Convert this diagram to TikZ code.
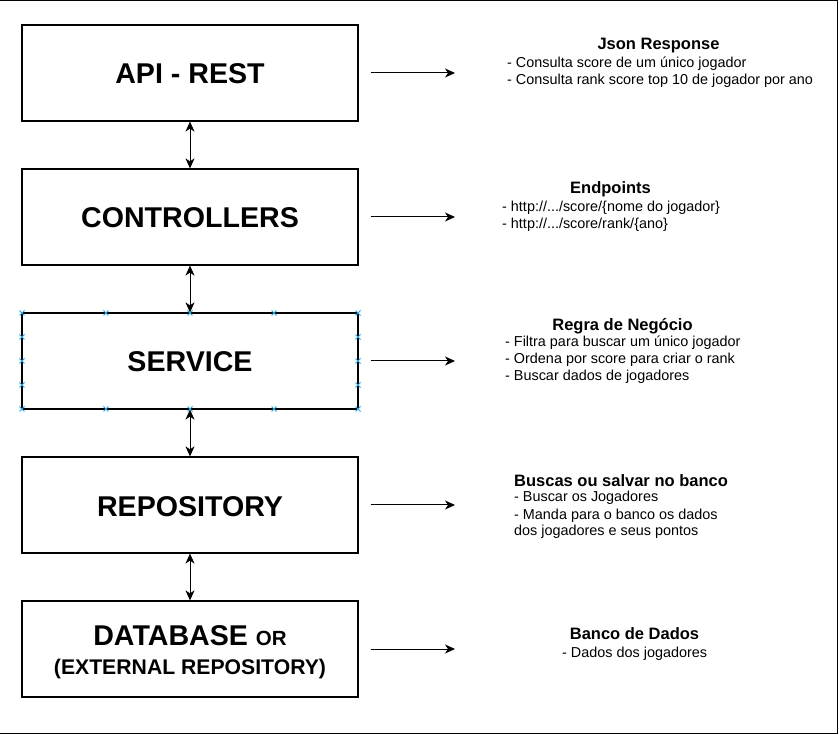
\documentclass[tikz,border=0pt]{standalone}
\usepackage{fontspec}
\setmainfont{Liberation Sans}
\usetikzlibrary{arrows.meta}
\begin{document}
\begin{tikzpicture}[x=1pt,y=-1pt,
  layer/.style={draw=black,line width=1.2pt,minimum width=336pt,minimum height=96pt,inner sep=0pt},
  boxtitle/.style={anchor=base,font=\bfseries\fontsize{28.6}{30}\selectfont,inner sep=0pt},
  conn/.style={line width=1pt,-{Stealth[length=10pt,width=9pt,inset=3pt]}},
  dconn/.style={line width=1pt,{Stealth[length=10pt,width=9pt,inset=3pt]}-{Stealth[length=10pt,width=9pt,inset=3pt]}},
  head/.style={anchor=base,font=\bfseries\fontsize{16.5}{18}\selectfont,inner sep=0pt},
  item/.style={anchor=base west,font=\fontsize{14.4}{16}\selectfont,inner sep=0pt},
  selmark/.style={draw={rgb,255:red,41;green,168;blue,224},line width=0.8pt}
]
\useasboundingbox (0,0) rectangle (839,735);
% outer frame
\draw[line width=1pt] (0,1) -- (837,1) -- (837,733) -- (0,733);

% layer boxes
\node[layer] (api) at (190,73) {};
\node[layer] (ctl) at (190,217) {};
\node[layer] (svc) at (190,361) {};
\node[layer] (rep) at (190,505) {};
\node[layer] (db)  at (190,649) {};

\node[boxtitle] (tapi) at (190,84) {API - REST};
\node[boxtitle] (tctl) at (190,228) {CONTROLLERS};
\node[boxtitle] (tsvc) at (190,372) {SERVICE};
\node[boxtitle] (trep) at (190,516) {REPOSITORY};
\node[boxtitle] (tdb1) at (190,645) {DATABASE {\fontsize{20.5}{22}\selectfont OR}};
\node[anchor=base,font=\bfseries\fontsize{21.2}{23}\selectfont,inner sep=0pt] (tdb2) at (190,674) {(EXTERNAL REPOSITORY)};

% selection markers on SERVICE
\foreach \px in {22,106,190,274,358}{
  \draw[selmark] (\px-2.5,313-2.5) -- (\px+2.5,313+2.5) (\px-2.5,313+2.5) -- (\px+2.5,313-2.5);
  \draw[selmark] (\px-2.5,409-2.5) -- (\px+2.5,409+2.5) (\px-2.5,409+2.5) -- (\px+2.5,409-2.5);
}
\foreach \py in {337,361,385}{
  \draw[selmark] (22-2.5,\py-2.5) -- (22+2.5,\py+2.5) (22-2.5,\py+2.5) -- (22+2.5,\py-2.5);
  \draw[selmark] (358-2.5,\py-2.5) -- (358+2.5,\py+2.5) (358-2.5,\py+2.5) -- (358+2.5,\py-2.5);
}

% vertical double arrows
\draw[dconn] (api.south) -- (ctl.north);
\draw[dconn] (ctl.south) -- (svc.north);
\draw[dconn] (svc.south) -- (rep.north);
\draw[dconn] (rep.south) -- (db.north);

% right arrows
\coordinate (e1) at (455,73);
\coordinate (e2) at (455,217);
\coordinate (e3) at (455,361);
\coordinate (e4) at (455,505);
\coordinate (e5) at (455,649);
\draw[conn] ([xshift=12pt]api.east) -- (e1);
\draw[conn] ([xshift=12pt]ctl.east) -- (e2);
\draw[conn] ([xshift=12pt]svc.east) -- (e3);
\draw[conn] ([xshift=12pt]rep.east) -- (e4);
\draw[conn] ([xshift=12pt]db.east) -- (e5);

% descriptions
\node[head] (h1) at (658.5,50) {Json Response};
\node[item] (a1) at (507,68) {- Consulta score de um único jogador};
\node[item] (a2) at (507,85) {- Consulta rank score top 10 de jogador por ano};

\node[head] (h2) at (610.5,194) {Endpoints};
\node[item] (b1) at (502,212) {- http://.../score/\{nome do jogador\}};
\node[item] (b2) at (502,229) {- http://.../score/rank/\{ano\}};

\node[head] (h3) at (622.5,331) {Regra de Negócio};
\node[item] (c1) at (505,347) {- Filtra para buscar um único jogador};
\node[item] (c2) at (505,364) {- Ordena por score para criar o rank};
\node[item] (c3) at (505,381) {- Buscar dados de jogadores};

\node[head,anchor=base west] (h4) at (514,486) {Buscas ou salvar no banco};
\node[item] (d1) at (514,502) {- Buscar os Jogadores};
\node[item] (d2) at (514,519) {- Manda para o banco os dados};
\node[item] (d3) at (514,536) {dos jogadores e seus pontos};

\node[head] (h5) at (634.5,639) {Banco de Dados};
\node[item] (f1) at (562,657) {- Dados dos jogadores};
\end{tikzpicture}
\end{document}
